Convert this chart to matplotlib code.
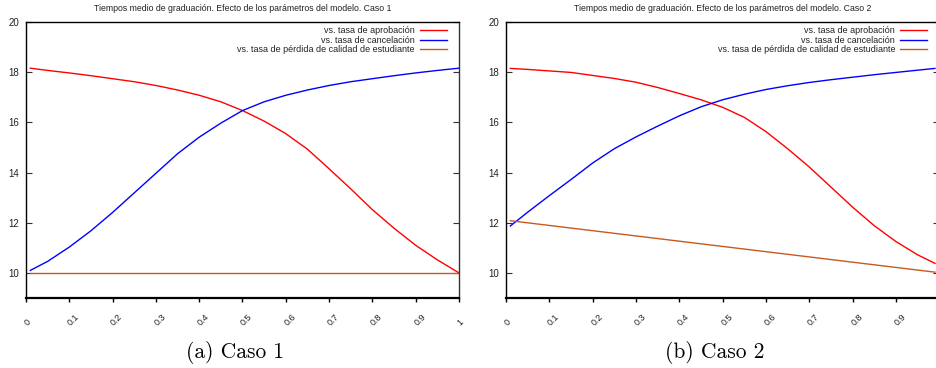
import matplotlib
matplotlib.use("Agg")
import matplotlib.pyplot as plt
from matplotlib.transforms import ScaledTranslation, blended_transform_factory

plt.rcParams['font.family'] = ['Liberation Sans', 'DejaVu Sans']

# x positions of the sampled points (parameter value)
x_caso1 = [0.01, 0.05, 0.10, 0.15, 0.20, 0.25, 0.30, 0.35, 0.40, 0.45, 0.50,
           0.55, 0.60, 0.65, 0.70, 0.75, 0.80, 0.85, 0.90, 0.95, 1.00]
x_caso2 = [0.01, 0.05, 0.10, 0.15, 0.20, 0.25, 0.30, 0.35, 0.40, 0.45, 0.50,
           0.55, 0.60, 0.65, 0.70, 0.75, 0.80, 0.85, 0.90, 0.95, 0.99]

# Caso 1
aprob1 = [18.16, 18.07, 17.97, 17.86, 17.74, 17.62, 17.47, 17.29, 17.08, 16.82, 16.47,
          16.05, 15.55, 14.93, 14.15, 13.35, 12.52, 11.78, 11.10, 10.52, 10.00]
cancel1 = [10.10, 10.46, 11.03, 11.68, 12.41, 13.19, 13.97, 14.75, 15.41, 15.97, 16.47,
           16.82, 17.08, 17.29, 17.47, 17.62, 17.74, 17.86, 17.97, 18.07, 18.16]
perd1_x = [0.01, 1.00]
perd1 = [10.0, 10.0]

# Caso 2
aprob2 = [18.15, 18.11, 18.05, 17.99, 17.87, 17.75, 17.60, 17.39, 17.15, 16.90, 16.60,
          16.20, 15.63, 14.95, 14.22, 13.42, 12.62, 11.88, 11.25, 10.72, 10.38]
cancel2 = [11.87, 12.42, 13.08, 13.72, 14.38, 14.95, 15.42, 15.85, 16.26, 16.62, 16.90,
           17.12, 17.31, 17.46, 17.59, 17.70, 17.80, 17.90, 17.99, 18.08, 18.15]
perd2_x = [0.01, 0.99]
perd2 = [12.08, 10.03]

xticks1 = [0, 0.1, 0.2, 0.3, 0.4, 0.5, 0.6, 0.7, 0.8, 0.9, 1]
xlabels1 = ['0', '0.1', '0.2', '0.3', '0.4', '0.5', '0.6', '0.7', '0.8', '0.9', '1']
xticks2 = xticks1[:-1]
xlabels2 = xlabels1[:-1]
yticks = [10, 12, 14, 16, 18, 20]

labels = ['vs. tasa de aprobación', 'vs. tasa de cancelación',
          'vs. tasa de pérdida de calidad de estudiante']
colors = ['#ff0000', '#0000ff', '#c85a1e']

fig = plt.figure(figsize=(9.37, 3.68), dpi=100)

def MakePanel(rect, caso, xa, aprob, cancel, px, perd, xt, xl, caption, cap_x):
    ax = fig.add_axes(rect)
    ax.plot(xa, aprob, color=colors[0], lw=1.0, label=labels[0])
    ax.plot(xa, cancel, color=colors[1], lw=1.0, label=labels[1])
    ax.plot(px, perd, color=colors[2], lw=1.0, label=labels[2])
    ax.set_xlim(0, 1)
    ax.set_ylim(9, 20)
    ax.set_xticks(xt)
    ax.set_yticks(yticks)
    ax.tick_params(axis='y', direction='in', right=True, length=4, width=0.8,
                   labelsize=7, pad=5, colors='#333333', labelcolor='#222222')
    ax.tick_params(axis='x', direction='out', top=False, length=3, width=1.0,
                   labelbottom=False)
    # rotated x labels, gnuplot style: start just right of the tick, go up-right
    trans = blended_transform_factory(ax.transData, ax.transAxes) + \
        ScaledTranslation(1.5 / 100, -28 / 100, fig.dpi_scale_trans)
    for xv, lab in zip(xt, xl):
        ax.text(xv, 0, lab, transform=trans, rotation=45, rotation_mode='anchor',
                ha='left', va='baseline', fontsize=6.5, color='#222222', clip_on=False)
    for s in ax.spines.values():
        s.set_linewidth(1.0)
    ax.spines['bottom'].set_linewidth(1.6)
    ax.spines['right'].set_color('#333333')
    ax.set_title('Tiempos medio de graduación. Efecto de los parámetros del modelo. Caso ' + caso,
                 fontsize=6.3, pad=8, color='#222222')
    leg = ax.legend(loc='upper right', bbox_to_anchor=(0.972, 0.984), markerfirst=False,
                    frameon=False, fontsize=6.5, handlelength=3.0, handletextpad=0.55,
                    labelspacing=0.05, borderaxespad=0, borderpad=0)
    for t in leg.get_texts():
        t.set_color('#222222')
    fig.text(cap_x / 937, 1 - 352 / 368, caption, ha='center', va='center',
             fontsize=15.5, family='cmr10')
    return ax

MakePanel([26 / 937, 1 - 298 / 368, 433 / 937, 276 / 368], '1',
          x_caso1, aprob1, cancel1, perd1_x, perd1, xticks1, xlabels1, '(a) Caso 1', 235)
MakePanel([506 / 937, 1 - 298 / 368, 433.3 / 937, 276 / 368], '2',
          x_caso2, aprob2, cancel2, perd2_x, perd2, xticks2, xlabels2, '(b) Caso 2', 715)

fig.savefig('out.png', dpi=100)
